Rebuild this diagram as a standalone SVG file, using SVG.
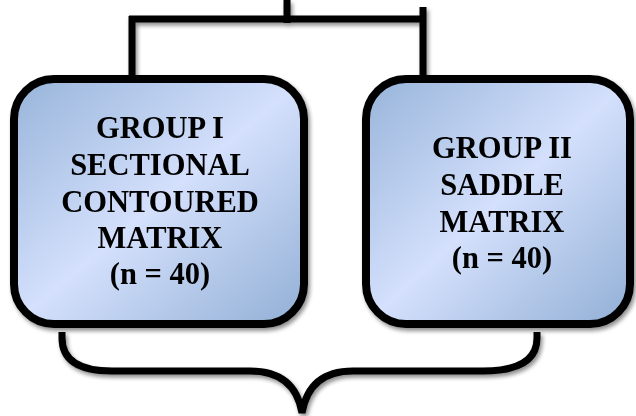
<svg xmlns="http://www.w3.org/2000/svg" width="636" height="416" viewBox="0 0 636 416">
<defs>
<linearGradient id="g" x1="0" y1="0" x2="1" y2="1">
<stop offset="0" stop-color="#97b4da"/>
<stop offset="0.5" stop-color="#d4e0fc"/>
<stop offset="1" stop-color="#91afd5"/>
</linearGradient>
<filter id="sh" x="-10%" y="-10%" width="125%" height="125%">
<feGaussianBlur in="SourceAlpha" stdDeviation="2"/>
<feOffset dx="2" dy="3" result="b"/>
<feComponentTransfer><feFuncA type="linear" slope="0.45"/></feComponentTransfer>
<feMerge><feMergeNode/><feMergeNode in="SourceGraphic"/></feMerge>
</filter>
</defs>
<style>
.box{fill:url(#g);stroke:#000;stroke-width:8}
.ln{fill:none;stroke:#000;stroke-width:7}
.t{font-family:"Liberation Serif","Times New Roman",serif;font-weight:bold;font-size:30.5px;text-anchor:middle;fill:#000}
</style>
<g id="connectors" filter="url(#sh)">
<path class="ln" d="M287,0 V23"/>
<path class="ln" d="M129,19 H426"/>
<path class="ln" d="M132,16 V77"/>
<path class="ln" d="M423,7 V77"/>
<path class="ln" d="M62,332 V338 Q62,371 112,371 H250 Q295,371 302,413 Q309,371 353,371 H483 Q537,371 537,338 V332"/>
</g>
<g id="group1" filter="url(#sh)">
<rect class="box" x="14" y="79" width="290" height="245" rx="40"/>
<text class="t" x="160" y="138">GROUP I</text>
<text class="t" x="160" y="175">SECTIONAL</text>
<text class="t" x="160" y="212">CONTOURED</text>
<text class="t" x="160" y="248">MATRIX</text>
<text class="t" x="160" y="284">(n = 40)</text>
</g>
<g id="group2" filter="url(#sh)">
<rect class="box" x="366" y="79" width="264" height="245" rx="40"/>
<text class="t" x="502" y="158">GROUP II</text>
<text class="t" x="502" y="195">SADDLE</text>
<text class="t" x="502" y="232">MATRIX</text>
<text class="t" x="502" y="268">(n = 40)</text>
</g>
</svg>
